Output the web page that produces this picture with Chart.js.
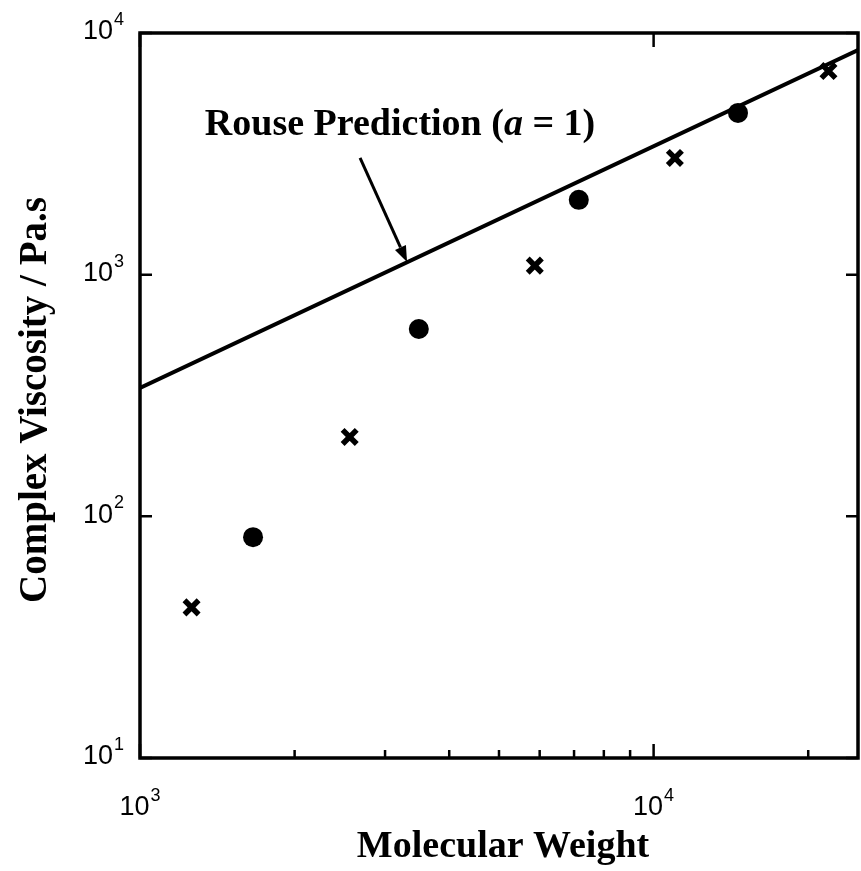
<!DOCTYPE html>
<html>
<head>
<meta charset="utf-8">
<script src="https://cdn.jsdelivr.net/npm/chart.js@4.4.1/dist/chart.umd.min.js"></script>
<style>
  html, body { margin: 0; padding: 0; background: #fff; overflow: hidden; }
  #wrap { width: 861px; height: 871px; position: relative; }
  canvas { display: block; }
</style>
</head>
<body>
<div id="wrap"><canvas id="viscChart"></canvas></div>
<script>
// measured points (x = one series, dots = the other)
const molWeightCross = [1260, 2560, 5870, 11000, 21900];
const viscCross = [42, 213, 1090, 3040, 6960];
const molWeightDot = [1660, 3490, 7150, 14600];
const viscDot = [82, 596, 2040, 4670];

// Rouse prediction, slope 1 on log-log
const rouseM = [1000, 25000];
const rouseEta = [340, 8500];

// axis ticks
const xMajor = [1000, 10000];
const xMajorExp = ['3', '4'];
const xMinor = [2000, 3000, 4000, 5000, 6000, 7000, 8000, 9000, 20000];
const yMajor = [10, 100, 1000, 10000];
const yMajorExp = ['1', '2', '3', '4'];

// annotation anchors (data coords)
const noteText = { x: 3208, y: 3784 };
const arrowFrom = { x: 2682, y: 3040 };
const arrowTo = { x: 3311, y: 1128 };

const pairs = (xs, ys) => xs.map((v, i) => ({ x: v, y: ys[i] }));

const SERIF = '"Liberation Serif", "Times New Roman", serif';
const SANS = '"Liberation Sans", Arial, sans-serif';

const framePlugin = {
  id: 'frame',
  afterDraw(chart) {
    const ctx = chart.ctx;
    const a = chart.chartArea;
    const xs = chart.scales.x, ys = chart.scales.y;
    ctx.save();
    ctx.strokeStyle = '#000';
    ctx.fillStyle = '#000';
    ctx.lineWidth = 3.5;
    ctx.strokeRect(a.left, a.top, a.right - a.left, a.bottom - a.top);

    // inward ticks
    ctx.lineWidth = 2.5;
    ctx.beginPath();
    xMajor.forEach(v => {
      const px = xs.getPixelForValue(v);
      ctx.moveTo(px, a.bottom); ctx.lineTo(px, a.bottom - 14);
      ctx.moveTo(px, a.top); ctx.lineTo(px, a.top + 14);
    });
    xMinor.forEach(v => {
      const px = xs.getPixelForValue(v);
      ctx.moveTo(px, a.bottom); ctx.lineTo(px, a.bottom - 8);
    });
    yMajor.forEach(v => {
      const py = ys.getPixelForValue(v);
      ctx.moveTo(a.left, py); ctx.lineTo(a.left + 12, py);
      ctx.moveTo(a.right, py); ctx.lineTo(a.right - 12, py);
    });
    ctx.stroke();

    // tick labels 10^n
    const drawPow = (cx, cy, exp, align) => {
      ctx.font = '27px ' + SANS;
      const wb = ctx.measureText('10').width;
      ctx.font = '18px ' + SANS;
      const we = ctx.measureText(exp).width;
      const x0 = align === 'right' ? cx - wb - we - 1 : cx - (wb + we + 1) / 2;
      ctx.textBaseline = 'middle';
      ctx.textAlign = 'left';
      ctx.font = '27px ' + SANS;
      ctx.fillText('10', x0, cy);
      ctx.font = '18px ' + SANS;
      ctx.fillText(exp, x0 + wb + 1, cy - 12);
    };
    xMajor.forEach((v, i) => drawPow(xs.getPixelForValue(v), 808, xMajorExp[i], 'center'));
    yMajor.forEach((v, i) => drawPow(124, ys.getPixelForValue(v) - 1, yMajorExp[i], 'right'));

    // axis titles
    ctx.textAlign = 'center';
    ctx.textBaseline = 'middle';
    ctx.font = 'bold 38px ' + SERIF;
    ctx.fillText('Molecular Weight', 503, 847);
    ctx.save();
    ctx.translate(36, 400);
    ctx.rotate(-Math.PI / 2);
    ctx.font = 'bold 39px ' + SERIF;
    ctx.fillText('Complex Viscosity / Pa.s', 0, 0);
    ctx.restore();

    // annotation text with italic a
    const tx = xs.getPixelForValue(noteText.x), ty = ys.getPixelForValue(noteText.y);
    const f1 = 'bold 38px ' + SERIF;
    const f2 = 'italic bold 38px ' + SERIF;
    const parts = [['Rouse Prediction (', f1], ['a', f2], [' = 1)', f1]];
    let total = 0;
    parts.forEach(p => { ctx.font = p[1]; total += ctx.measureText(p[0]).width; });
    let cx = tx - total / 2;
    ctx.textAlign = 'left';
    ctx.textBaseline = 'alphabetic';
    parts.forEach(p => { ctx.font = p[1]; ctx.fillText(p[0], cx, ty); cx += ctx.measureText(p[0]).width; });

    // arrow
    const x1 = xs.getPixelForValue(arrowFrom.x), y1 = ys.getPixelForValue(arrowFrom.y);
    const x2 = xs.getPixelForValue(arrowTo.x), y2 = ys.getPixelForValue(arrowTo.y);
    const ang = Math.atan2(y2 - y1, x2 - x1);
    const hl = 16, hw = 6;
    ctx.lineWidth = 3;
    ctx.beginPath();
    ctx.moveTo(x1, y1);
    ctx.lineTo(x2 - hl * Math.cos(ang), y2 - hl * Math.sin(ang));
    ctx.stroke();
    ctx.beginPath();
    ctx.moveTo(x2, y2);
    ctx.lineTo(x2 - hl * Math.cos(ang) + hw * Math.sin(ang), y2 - hl * Math.sin(ang) - hw * Math.cos(ang));
    ctx.lineTo(x2 - hl * Math.cos(ang) - hw * Math.sin(ang), y2 - hl * Math.sin(ang) + hw * Math.cos(ang));
    ctx.closePath();
    ctx.fill();
    ctx.restore();
  }
};

new Chart(document.getElementById('viscChart'), {
  type: 'scatter',
  data: {
    datasets: [
      {
        label: 'Rouse prediction',
        type: 'line',
        data: pairs(rouseM, rouseEta),
        borderColor: '#000',
        borderWidth: 4,
        pointRadius: 0,
        fill: false
      },
      {
        label: 'x',
        data: pairs(molWeightCross, viscCross),
        pointStyle: 'crossRot',
        pointRadius: 10,
        borderWidth: 5.5,
        borderColor: '#000',
        backgroundColor: '#000'
      },
      {
        label: 'dot',
        data: pairs(molWeightDot, viscDot),
        pointStyle: 'circle',
        pointRadius: 10,
        borderWidth: 0,
        backgroundColor: '#000'
      }
    ]
  },
  options: {
    responsive: true,
    maintainAspectRatio: false,
    animation: false,
    layout: { autoPadding: false, padding: { top: 33, right: 3, left: 0, bottom: 0 } },
    plugins: { legend: { display: false }, tooltip: { enabled: false } },
    scales: {
      x: {
        type: 'logarithmic',
        min: 1000,
        max: 25000,
        grid: { display: false },
        border: { display: false },
        ticks: { display: false },
        afterFit: s => { s.height = 113; }
      },
      y: {
        type: 'logarithmic',
        min: 10,
        max: 10000,
        grid: { display: false },
        border: { display: false },
        ticks: { display: false },
        afterFit: s => { s.width = 140; }
      }
    }
  },
  plugins: [framePlugin]
});
</script>
</body>
</html>
